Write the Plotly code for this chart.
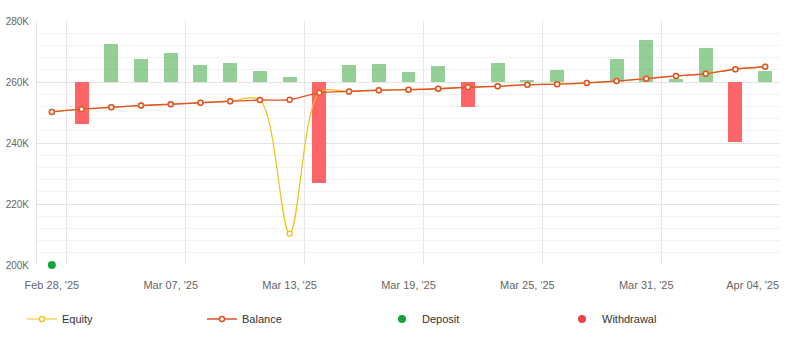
import plotly.graph_objects as go

# ---- data ----
dates = ["Feb 28, '25", "Mar 03, '25", "Mar 04, '25", "Mar 05, '25", "Mar 07, '25",
         "Mar 10, '25", "Mar 11, '25", "Mar 12, '25", "Mar 13, '25", "Mar 14, '25",
         "Mar 17, '25", "Mar 18, '25", "Mar 19, '25", "Mar 20, '25", "Mar 21, '25",
         "Mar 24, '25", "Mar 25, '25", "Mar 26, '25", "Mar 27, '25", "Mar 28, '25",
         "Mar 31, '25", "Apr 01, '25", "Apr 02, '25", "Apr 03, '25", "Apr 04, '25"]
balance = [250200, 251100, 251700, 252300, 252700, 253200, 253700, 254100, 254200, 256500,
           256900, 257300, 257500, 257800, 258300, 258600, 259100, 259300, 259700, 260300,
           261100, 262000, 262700, 264200, 265000]
equity = [250200, 251100, 251700, 252300, 252700, 253200, 253700, 254100, 210300, 256500,
          256900, 257300, 257500, 257800, 258300, 258600, 259100, 259300, 259700, 260300,
          261100, 262000, 262700, 264200, 265000]
daily_change = [None, -13700, 12600, 7600, 9600, 5600, 6300, 3700, 1700, -33000,
                5600, 6000, 3300, 5300, -8100, 6300, 700, 4000, None, 7600,
                13800, 1000, 11200, -19600, 3700]
deposit_dates = ["Feb 28, '25"]
deposit_values = [200000]
withdrawal_dates = []
withdrawal_values = []
y_ticks = [200000, 220000, 240000, 260000, 280000]
y_tick_labels = ["200K", "220K", "240K", "260K", "280K"]

# ---- figure ----
idx = {d: i for i, d in enumerate(dates)}
xs = list(range(len(dates)))
bar_base = 260000

fig = go.Figure()

fig.add_trace(go.Bar(
    x=xs, y=daily_change, base=bar_base, width=0.47,
    marker=dict(color=["rgba(76,175,80,0.6)" if (v or 0) >= 0 else "#ff6468" for v in daily_change],
                line=dict(width=0)),
    showlegend=False, hoverinfo="skip"))

fig.add_trace(go.Scatter(
    x=xs, y=equity, name="Equity", mode="lines+markers",
    line=dict(color="#f2c21b", width=1.2, shape="spline", smoothing=0.9),
    marker=dict(symbol="circle", size=5, color="white", line=dict(color="#f2c21b", width=1.4))))

fig.add_trace(go.Scatter(
    x=xs, y=balance, name="Balance", mode="lines+markers",
    line=dict(color="#e0522a", width=1.4, shape="spline", smoothing=0.9),
    marker=dict(symbol="circle", size=5, color="white", line=dict(color="#e0522a", width=1.5))))

fig.add_trace(go.Scatter(
    x=[idx[d] for d in deposit_dates], y=deposit_values, name="Deposit", mode="markers",
    cliponaxis=False,
    marker=dict(size=8, color="#13a538")))

fig.add_trace(go.Scatter(
    x=[idx[d] for d in withdrawal_dates] or [None], y=withdrawal_values or [None],
    name="Withdrawal", mode="markers", cliponaxis=False,
    marker=dict(size=8, color="#e8474a")))

tickvals = xs[::4]
ticktext = dates[::4]
tickpos = [float(v) for v in tickvals]
tickpos[-1] -= 0.42  # keep last label inside the canvas

fig.update_layout(
    width=790, height=353,
    margin=dict(l=37, r=10, t=21, b=88, autoexpand=False),
    plot_bgcolor="white", paper_bgcolor="white",
    font=dict(family="Liberation Sans, Arial, sans-serif", size=11, color="#666666"),
    bargap=0,
    xaxis=dict(
        range=[-0.5, len(dates) - 0.5],
        tickmode="array", tickvals=tickpos, ticktext=ticktext,
        showgrid=False, zeroline=False, showline=False,
        ticks="", ticklabelstandoff=12,
        tickfont=dict(size=11, color="#666666"),
        minor=dict(tickmode="linear", tick0=0.5, dtick=4, showgrid=True,
                   gridcolor="#e6e6e6", gridwidth=1, ticks=""),
    ),
    yaxis=dict(
        range=[200000, 280000],
        tickmode="array", tickvals=y_ticks, ticktext=y_tick_labels,
        showgrid=True, gridcolor="#e4e4e4", gridwidth=1,
        zeroline=False, showline=True, linecolor="#e4e4e4", linewidth=1,
        ticks="", ticklabelstandoff=5,
        tickfont=dict(size=10, color="#666666"),
        minor=dict(dtick=4000, tick0=200000, showgrid=True, gridcolor="#f3f3f3", gridwidth=1, ticks=""),
    ),
    legend=dict(
        orientation="h", xref="container", yref="container",
        x=22 / 790, y=1 - 319 / 353, xanchor="left", yanchor="middle",
        entrywidth=135, entrywidthmode="pixels",
        font=dict(size=11, color="#333333"),
        bgcolor="rgba(0,0,0,0)", itemwidth=30,
    ),
)

fig.write_html("out.html")
